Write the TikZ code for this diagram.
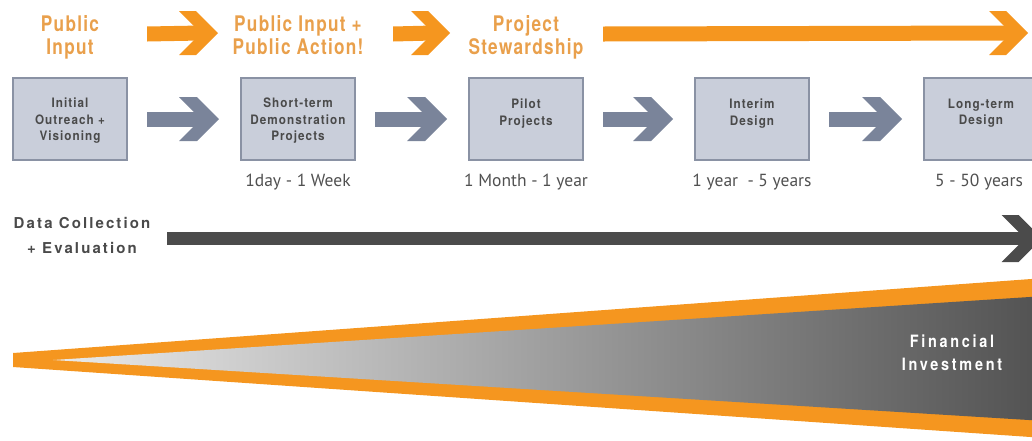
\documentclass[tikz,border=0pt]{standalone}
\usepackage{fontspec}
\setmainfont{TeX Gyre Heros}
\newfontfamily\hfont[FakeStretch=0.8,LetterSpace=6]{TeX Gyre Heros}
\newfontfamily\sfont[FakeStretch=0.9,LetterSpace=8]{TeX Gyre Heros}
\newfontfamily\dfont[LetterSpace=14]{TeX Gyre Heros}
\newfontfamily\tfont{PT Sans}
\newfontfamily\ffont[FakeStretch=0.85,LetterSpace=16]{TeX Gyre Heros}
\usetikzlibrary{calc}
\definecolor{orng}{HTML}{F5961F}
\definecolor{orngtxt}{HTML}{E9A04C}
\definecolor{boxfill}{HTML}{C9CEDA}
\definecolor{boxline}{HTML}{8A92A4}
\definecolor{garrow}{HTML}{7A849A}
\definecolor{dtext}{HTML}{4A4A4A}
\definecolor{darrow}{HTML}{4B4B4B}
\definecolor{ttext}{HTML}{505050}
% #1 style, #2 start coordinate, #3 tip coordinate, #4 shaft half height, #5 head half height, #6 head thickness
\newcommand\chevarrow[6]{%
  \fill[#1] ($(#2)+(0,-#4)$) -- ($(#3)+(-#6,-#4)$) -- ($(#3)+(-#6,#4)$) -- ($(#2)+(0,#4)$) -- cycle;
  \fill[#1] ($(#3)+(-#5-#6,-#5)$) -- ($(#3)+(-#5,-#5)$) -- (#3) -- ($(#3)+(-#5,#5)$) -- ($(#3)+(-#5-#6,#5)$) -- ($(#3)+(-#6,0)$) -- cycle;
}
\begin{document}
\begin{tikzpicture}[x=1pt,y=-1pt,
  stagebox/.style={draw=boxline, line width=2pt, fill=boxfill, minimum width=114pt, minimum height=82pt, inner sep=0pt},
  stagetext/.style={anchor=north, align=center, inner sep=0pt, text=dtext, font=\sfont\bfseries\fontsize{13}{16.3}\selectfont},
  heading/.style={anchor=north, align=center, inner sep=0pt, text=orngtxt, font=\hfont\bfseries\fontsize{21.5}{23}\selectfont},
  timetext/.style={anchor=base, inner sep=0pt, text=ttext, font=\tfont\fontsize{17.5}{20}\selectfont},
  datatext/.style={anchor=north, align=center, inner sep=0pt, text=dtext, font=\dfont\bfseries\fontsize{15}{25}\selectfont},
  fintext/.style={anchor=north, align=center, inner sep=0pt, text=white, font=\ffont\bfseries\fontsize{17}{23}\selectfont}
]
\useasboundingbox (0,0) rectangle (1032,440);
\clip (0,0) rectangle (1032,440);

% wedge
\fill[orng] (13,353) -- (1045,278) -- (1045,438) -- (13,367) -- cycle;
\shade[left color=black!8, right color=black!68] (53,360) -- (1045,296) -- (1045,421) -- cycle;

% stage boxes
\node[stagebox] (b1) at (70,119) {};
\node[stagebox] (b2) at (298,119) {};
\node[stagebox] (b3) at (526,119) {};
\node[stagebox] (b4) at (752,119) {};
\node[stagebox] (b5) at (981,119) {};

\node[stagetext] (t1) at ($(b1.north)+(0,21)$) {Initial\\Outreach +\\Visioning};
\node[stagetext] (t2) at ($(b2.north)+(0,21)$) {Short-term\\Demonstration\\Projects};
\node[stagetext] (t3) at ($(b3.north)+(0,22)$) {Pilot\\Projects};
\node[stagetext] (t4) at ($(b4.north)+(0,22)$) {Interim\\Design};
\node[stagetext] (t5) at ($(b5.north)+(0,22)$) {Long-term\\Design};

% gray arrows between boxes
\foreach \a/\b/\n in {b1/b2/1, b2/b3/2, b3/b4/3, b4/b5/4}{
  \coordinate (g\n s) at ($(\a.east)+(19,0)$);
  \coordinate (g\n t) at ($(\b.west)+(-21,0)$);
  \chevarrow{garrow}{g\n s}{g\n t}{7.5}{22}{18}
}

% headings
\node[heading] (h1) at ($(b1.north)+(0,-62)$) {Public\\Input};
\node[heading] (h2) at ($(b2.north)+(0,-62)$) {Public Input +\\Public Action!};
\node[heading] (h3) at ($(b3.north)+(0,-62)$) {Project\\Stewardship};

% orange arrows
\coordinate (o1s) at (147,34);
\coordinate (o1t) at (218,33);
\coordinate (o2s) at (393,34);
\coordinate (o2t) at (450,33);
\coordinate (o3s) at (603,34);
\coordinate (o3t) at (1028,33);
\chevarrow{orng}{o1s}{o1t}{7.5}{22}{17}
\chevarrow{orng}{o2s}{o2t}{7.5}{22}{17}
\chevarrow{orng}{o3s}{o3t}{7.5}{22}{17}

% durations
\node[timetext] (d2) at ($(b2.south)+(0,25)$) {1day - 1 Week};
\node[timetext] (d3) at ($(b3.south)+(0,25)$) {1 Month - 1 year};
\node[timetext] (d4) at ($(b4.south)+(0,25)$) {1 year\ \ - 5 years};
\node[timetext] (d5) at ($(b5.south)+(-2,25)$) {5 - 50 years};

% data collection
\node[datatext] (dc) at (82,217) {Data Collection\\+ Evaluation};
\coordinate (ds) at (167,238.5);
\coordinate (dt) at (1042,238.5);
\chevarrow{darrow}{ds}{dt}{6.5}{23.5}{17}

% financial investment
\node[fintext] (fi) at (952,335) {Financial\\Investment};
\end{tikzpicture}
\end{document}
